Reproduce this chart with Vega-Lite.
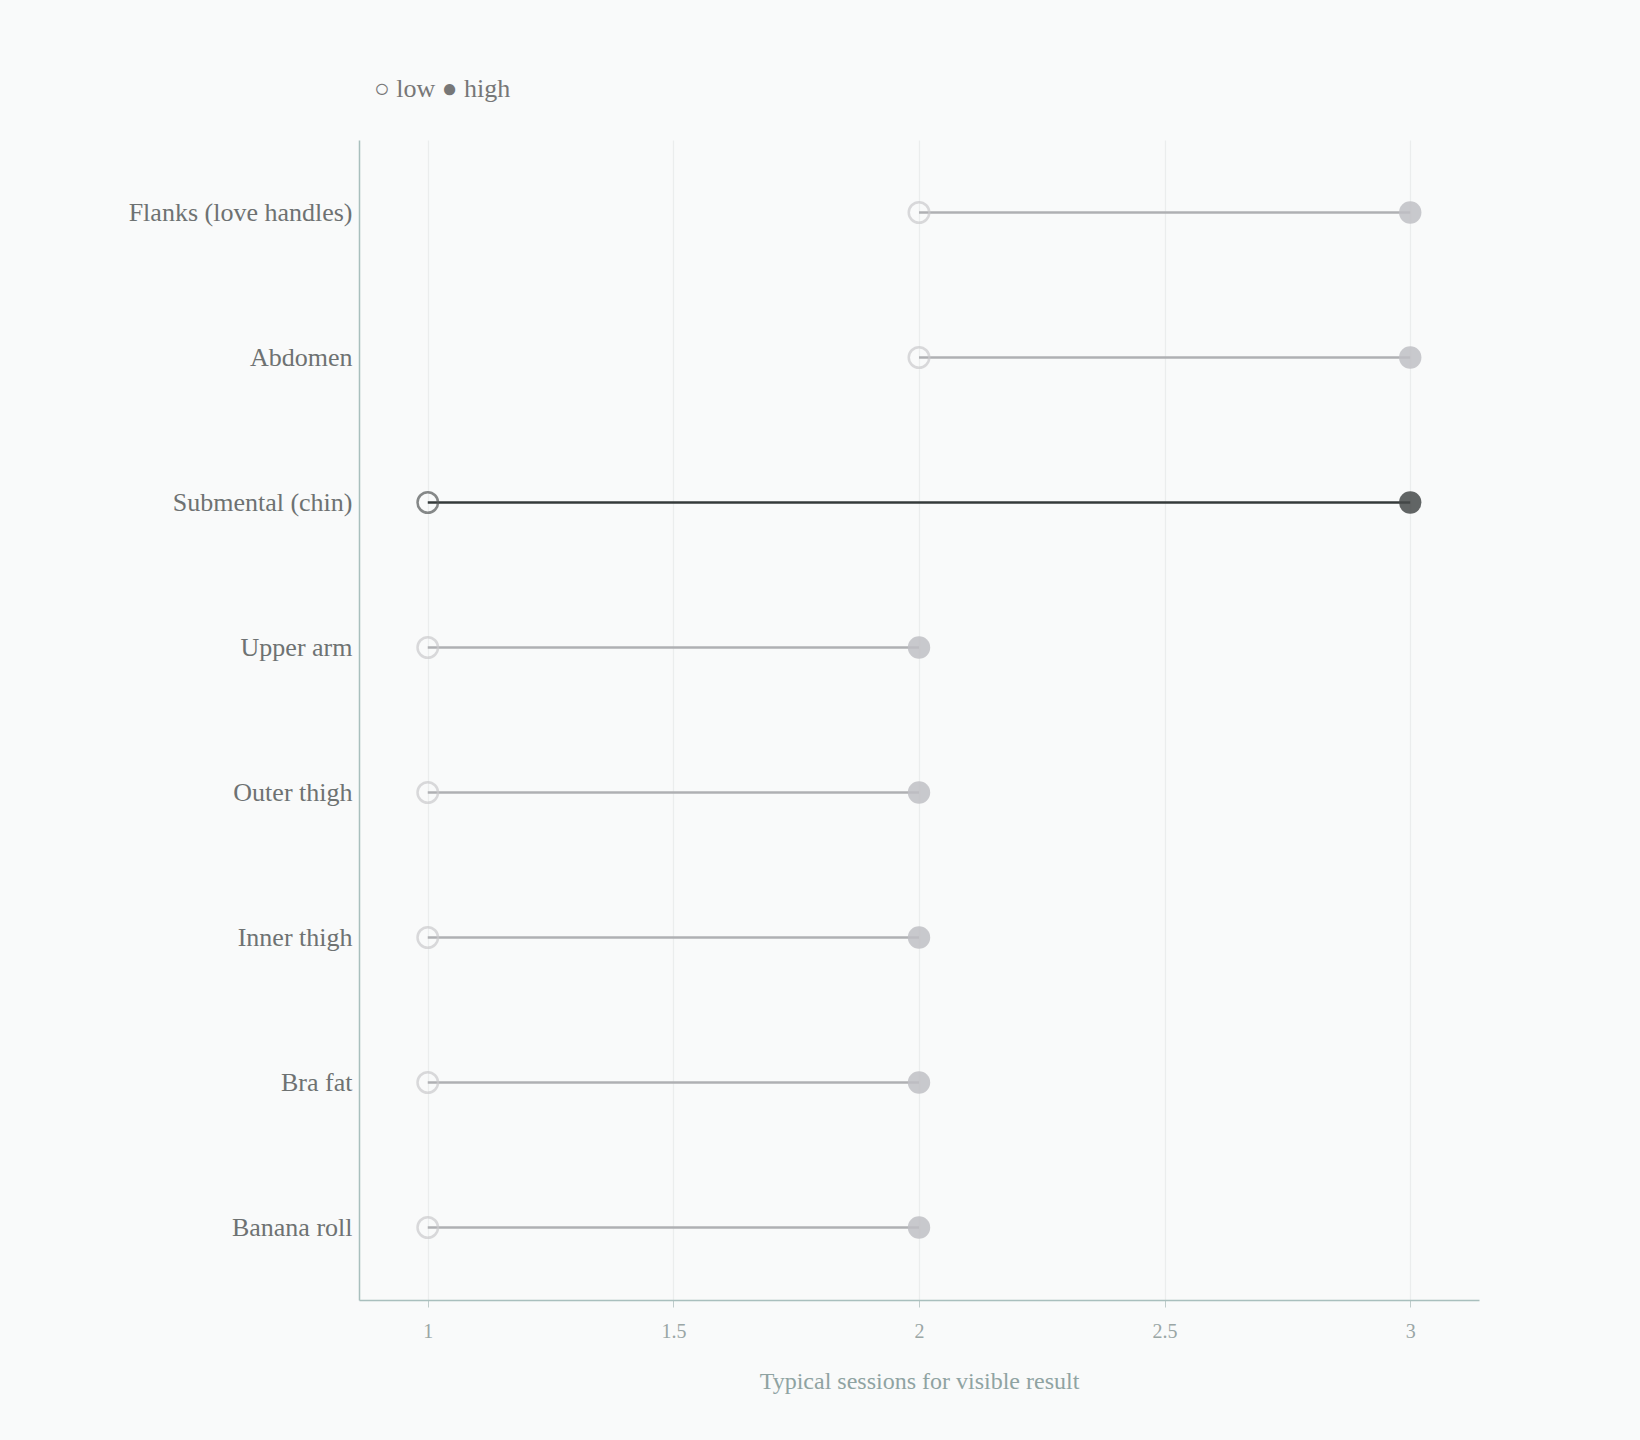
{
  "$schema": "https://vega.github.io/schema/vega-lite/v6.json",
  "width": 1120,
  "height": 1160,
  "autosize": "none",
  "padding": {"left": 359, "top": 140, "right": 161, "bottom": 140},
  "background": "#f9fafa",
  "title": {
    "text": "○ low ● high",
    "anchor": "start",
    "frame": "group",
    "dx": 15,
    "offset": 38,
    "font": "Liberation Serif",
    "fontSize": 26,
    "fontWeight": "normal",
    "color": "#777777"
  },
  "config": {
    "view": {"stroke": null},
    "font": "Liberation Serif"
  },
  "data": {
    "values": [
      {"area": "Flanks (love handles)", "low": 2, "high": 3, "focus": "no"},
      {"area": "Abdomen", "low": 2, "high": 3, "focus": "no"},
      {"area": "Submental (chin)", "low": 1, "high": 3, "focus": "yes"},
      {"area": "Upper arm", "low": 1, "high": 2, "focus": "no"},
      {"area": "Outer thigh", "low": 1, "high": 2, "focus": "no"},
      {"area": "Inner thigh", "low": 1, "high": 2, "focus": "no"},
      {"area": "Bra fat", "low": 1, "high": 2, "focus": "no"},
      {"area": "Banana roll", "low": 1, "high": 2, "focus": "no"}
    ]
  },
  "encoding": {
    "y": {
      "field": "area",
      "type": "nominal",
      "sort": null,
      "title": null,
      "axis": {
        "ticks": false,
        "labelPadding": 7,
        "labelLimit": 0,
        "labelFontSize": 26,
        "labelColor": "#6e7272",
        "labelFont": "Liberation Serif",
        "domainColor": "#a9bfbd",
        "domainWidth": 1.5,
        "grid": false
      }
    }
  },
  "layer": [
    {
      "mark": {"type": "rule", "strokeWidth": 2.5},
      "encoding": {
        "x": {
          "field": "low",
          "type": "quantitative",
          "scale": {"domain": [0.86, 3.14], "nice": false, "zero": false},
          "title": "Typical sessions for visible result",
          "axis": {
            "values": [1, 1.5, 2, 2.5, 3],
            "format": "~g",
            "tickSize": 7,
            "tickColor": "#c0cccb",
            "labelPadding": 14,
            "labelFontSize": 20,
            "labelColor": "#9aa6a5",
            "labelFont": "Liberation Serif",
            "titleFontSize": 24,
            "titleFontWeight": "normal",
            "titleColor": "#8fa3a2",
            "titleFont": "Liberation Serif",
            "titlePadding": 28,
            "domainColor": "#a9bfbd",
            "domainWidth": 1.5,
            "gridColor": "#ebeded",
            "gridWidth": 1.2
          }
        },
        "x2": {"field": "high"},
        "color": {
          "field": "focus",
          "type": "nominal",
          "scale": {"domain": ["no", "yes"], "range": ["#afb0b3", "#343a3a"]},
          "legend": null
        }
      }
    },
    {
      "mark": {"type": "point", "shape": "circle", "filled": false, "size": 420, "strokeWidth": 2.5},
      "encoding": {
        "x": {"field": "low", "type": "quantitative"},
        "color": {
          "field": "focus",
          "type": "nominal",
          "scale": {"domain": ["no", "yes"], "range": ["#cbcbcd", "#555858"]},
          "legend": null
        }
      }
    },
    {
      "mark": {"type": "point", "shape": "circle", "filled": true, "size": 500, "opacity": 0.85},
      "encoding": {
        "x": {"field": "high", "type": "quantitative"},
        "color": {
          "field": "focus",
          "type": "nominal",
          "scale": {"domain": ["no", "yes"], "range": ["#bfbfc4", "#474a4a"]},
          "legend": null
        }
      }
    }
  ],
  "resolve": {"scale": {"color": "independent"}}
}
